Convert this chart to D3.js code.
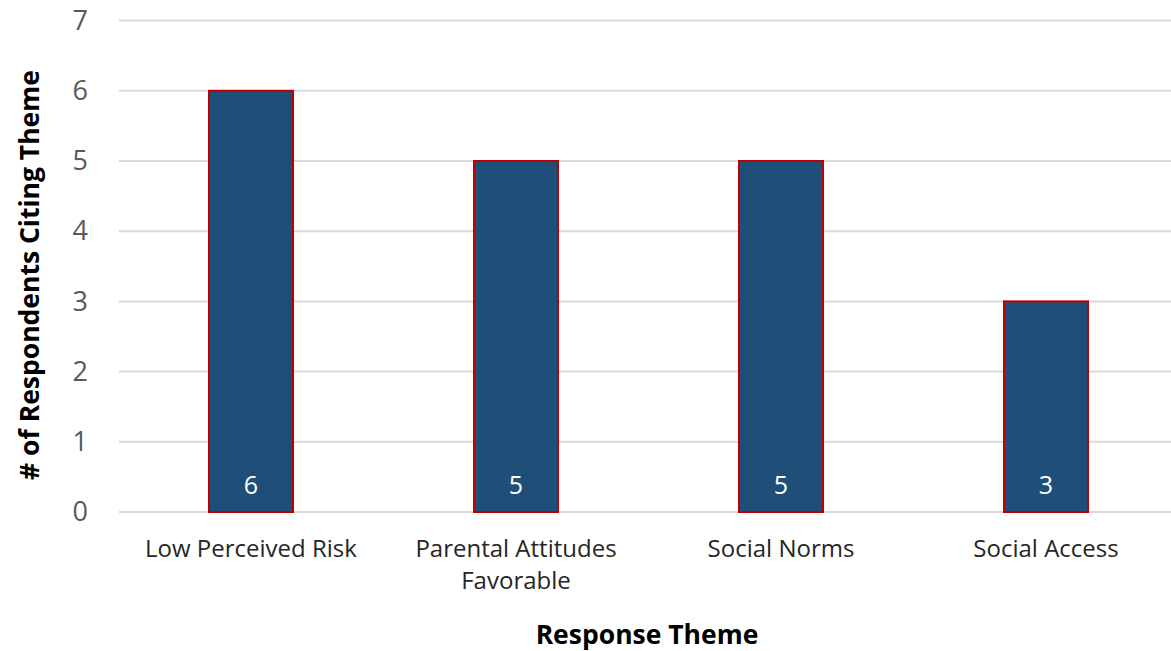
<!DOCTYPE html>
<html>
<head>
<meta charset="utf-8">
<script src="https://cdn.jsdelivr.net/npm/d3@7"></script>
<style>
  body { margin: 0; background: #fff; }
  text { font-family: "Open Sans", "Noto Sans", sans-serif; }
</style>
</head>
<body>
<div id="drawing"></div>
<script>
const width = 1171;
const height = 651;

// chart data
const categories = [["Low Perceived Risk"], ["Parental Attitudes", "Favorable"], ["Social Norms"], ["Social Access"]];
const values = [6, 5, 5, 3];
const yTicks = [0, 1, 2, 3, 4, 5, 6, 7];

const drawing = d3.select("#drawing").append("svg")
  .attr("width", width)
  .attr("height", height)
  .style("background", "#fff");

const xScale = d3.scaleBand()
  .domain(d3.range(categories.length))
  .range([118.5, 1178.5])
  .paddingInner(0.683)
  .paddingOuter(0.3415);

const yScale = d3.scaleLinear()
  .domain([0, 7])
  .range([512, 20.6]);

// gridlines
drawing.append("g")
  .selectAll("line")
  .data(yTicks)
  .join("line")
  .attr("x1", 119)
  .attr("x2", width)
  .attr("y1", d => yScale(d))
  .attr("y2", d => yScale(d))
  .style("stroke", "#D9D9D9")
  .style("stroke-width", 2);

// y tick labels
const yAxis = drawing.append("g")
  .attr("transform", "translate(98,0)")
  .call(d3.axisLeft(yScale).tickValues(yTicks).tickFormat(d3.format("d")).tickSize(0).tickPadding(10));
yAxis.select(".domain").remove();
yAxis.selectAll("text")
  .style("font-family", "'Open Sans', sans-serif")
  .style("font-size", "27px")
  .style("fill", "#595959");

// bars
drawing.append("g")
  .selectAll("rect")
  .data(values)
  .join("rect")
  .attr("x", (d, i) => xScale(i))
  .attr("y", d => yScale(d))
  .attr("width", xScale.bandwidth())
  .attr("height", d => yScale(0) - yScale(d))
  .style("fill", "#1F4E79")
  .style("stroke", "#C00000")
  .style("stroke-width", 2);

// value labels
drawing.append("g")
  .selectAll("text")
  .data(values)
  .join("text")
  .attr("x", (d, i) => xScale(i) + xScale.bandwidth() / 2)
  .attr("y", yScale(0) - 18)
  .attr("text-anchor", "middle")
  .style("font-size", "25px")
  .style("fill", "#fff")
  .text(d => d);

// category labels
const catLabels = drawing.append("g")
  .selectAll("text")
  .data(categories)
  .join("text")
  .attr("x", (d, i) => xScale(i) + xScale.bandwidth() / 2)
  .attr("y", 557)
  .attr("text-anchor", "middle")
  .style("font-size", "24px")
  .style("fill", "#262626");
catLabels.selectAll("tspan")
  .data((d, i) => d.map(t => ({t, i})))
  .join("tspan")
  .attr("x", d => xScale(d.i) + xScale.bandwidth() / 2)
  .attr("dy", (d, j) => j === 0 ? 0 : 32)
  .text(d => d.t);

// axis titles
drawing.append("text")
  .attr("x", 647)
  .attr("y", 644)
  .attr("text-anchor", "middle")
  .style("font-size", "26.5px")
  .style("font-weight", "bold")
  .style("fill", "#000")
  .text("Response Theme");

drawing.append("text")
  .attr("transform", "translate(39,275) rotate(-90)")
  .attr("text-anchor", "middle")
  .style("font-size", "26.5px")
  .style("font-weight", "bold")
  .style("fill", "#000")
  .text("# of Respondents Citing Theme");
</script>
</body>
</html>
